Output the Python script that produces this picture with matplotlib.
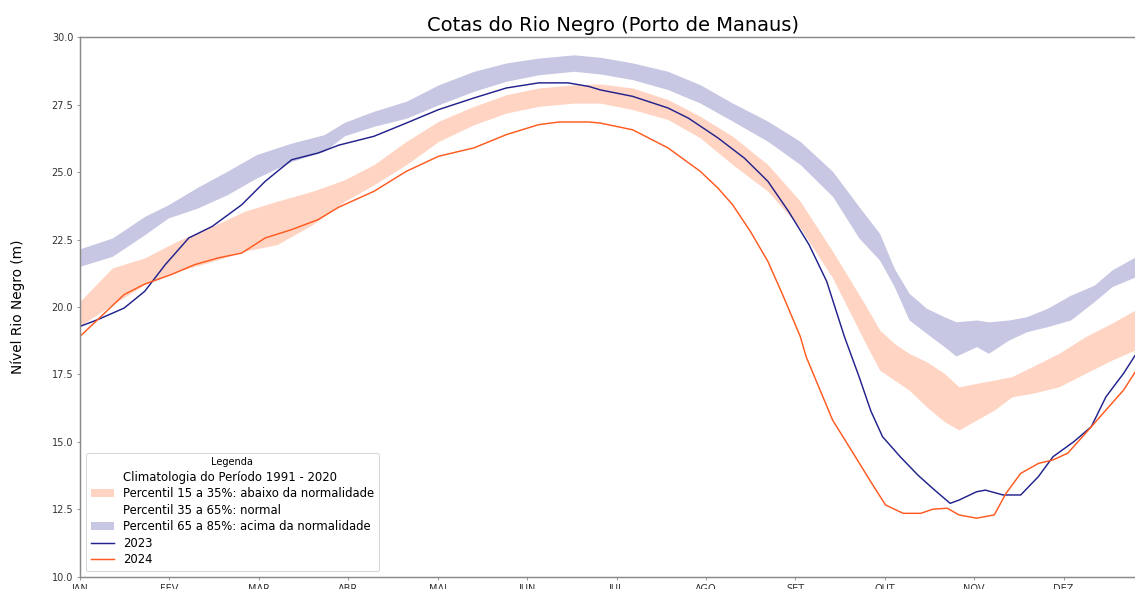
import numpy as np
import matplotlib
matplotlib.use('Agg')
from matplotlib import pyplot as plt
from matplotlib.patches import Patch

# dia do ano (0 = 1 de janeiro)
meses = ['JAN', 'FEV', 'MAR', 'ABR', 'MAI', 'JUN', 'JUL', 'AGO', 'SET', 'OUT', 'NOV', 'DEZ']

# percentil 65 a 85% (acima da normalidade)
dias_p85 = [0, 11, 22, 30, 40, 50, 60, 72, 83, 90, 100, 111, 122, 134, 145, 156, 168, 177, 188, 200,
            211, 222, 234, 245, 256, 265, 272, 277, 282, 288, 294, 298, 305, 309, 316, 322, 329, 337,
            345, 351, 359]
p85_sup = [22.16, 22.56, 23.36, 23.79, 24.44, 25.03, 25.65, 26.08, 26.39, 26.85, 27.26, 27.63, 28.24,
           28.74, 29.05, 29.23, 29.35, 29.26, 29.05, 28.74, 28.24, 27.56, 26.89, 26.14, 25.03, 23.72,
           22.73, 21.43, 20.51, 19.95, 19.64, 19.45, 19.52, 19.45, 19.52, 19.64, 19.95, 20.44, 20.81,
           21.37, 21.86]
p85_inf = [21.51, 21.88, 22.68, 23.30, 23.67, 24.16, 24.78, 25.40, 25.77, 26.35, 26.70, 27.00, 27.50,
           28.00, 28.37, 28.61, 28.74, 28.64, 28.43, 28.06, 27.56, 26.89, 26.14, 25.28, 24.10, 22.55,
           21.74, 20.75, 19.52, 19.02, 18.53, 18.18, 18.53, 18.28, 18.78, 19.08, 19.27, 19.52, 20.20,
           20.75, 21.12]

# percentil 15 a 35% (abaixo da normalidade)
dias_p15 = [0, 11, 22, 33, 45, 56, 67, 79, 90, 100, 111, 122, 134, 145, 156, 168, 177, 188, 200, 211,
            222, 234, 245, 256, 267, 272, 277, 282, 288, 294, 299, 305, 311, 317, 324, 333, 342, 351, 359]
p15_sup = [20.21, 21.45, 21.82, 22.44, 22.99, 23.55, 23.92, 24.29, 24.72, 25.28, 26.14, 26.89, 27.44,
           27.87, 28.12, 28.24, 28.27, 28.12, 27.69, 27.07, 26.33, 25.28, 23.92, 22.07, 20.10, 19.15,
           18.65, 18.28, 17.97, 17.54, 17.04, 17.17, 17.29, 17.42, 17.79, 18.28, 18.90, 19.40, 19.89]
p15_inf = [19.30, 20.09, 20.83, 21.32, 21.69, 22.07, 22.31, 23.05, 23.92, 24.53, 25.28, 26.14, 26.76,
           27.19, 27.44, 27.56, 27.56, 27.32, 26.95, 26.27, 25.28, 24.29, 22.93, 21.08, 18.70, 17.66,
           17.29, 16.92, 16.30, 15.75, 15.44, 15.81, 16.18, 16.67, 16.80, 17.04, 17.54, 18.03, 18.41]

# cotas 2023
dias_2023 = [0, 6, 15, 22, 29, 37, 45, 55, 63, 72, 81, 88, 100, 111, 122, 134, 145, 156, 166, 173, 177,
             188, 200, 207, 217, 226, 234, 241, 248, 254, 260, 265, 269, 273, 279, 285, 290, 296, 299,
             305, 308, 314, 320, 326, 331, 338, 344, 349, 355, 359]
cota_2023 = [19.28, 19.53, 19.96, 20.58, 21.57, 22.56, 22.99, 23.79, 24.66, 25.46, 25.71, 26.00, 26.33,
             26.82, 27.32, 27.75, 28.12, 28.31, 28.31, 28.18, 28.05, 27.81, 27.38, 27.00, 26.27, 25.52,
             24.66, 23.55, 22.31, 20.95, 18.91, 17.42, 16.15, 15.19, 14.45, 13.77, 13.28, 12.72, 12.84,
             13.15, 13.21, 13.03, 13.03, 13.71, 14.45, 15.00, 15.56, 16.67, 17.54, 18.22]

# cotas 2024
dias_2024 = [0, 6, 15, 22, 31, 39, 47, 55, 63, 72, 81, 88, 100, 111, 122, 134, 145, 156, 163, 173, 177,
             188, 200, 211, 217, 222, 228, 234, 239, 245, 247, 256, 263, 269, 274, 280, 286, 290, 295,
             299, 305, 311, 315, 320, 326, 331, 336, 342, 349, 355, 359]
cota_2024 = [18.91, 19.53, 20.46, 20.85, 21.20, 21.57, 21.82, 22.00, 22.56, 22.87, 23.24, 23.70, 24.29,
             25.03, 25.59, 25.90, 26.39, 26.76, 26.86, 26.86, 26.82, 26.57, 25.90, 25.03, 24.41, 23.79,
             22.81, 21.69, 20.46, 18.91, 18.16, 15.81, 14.58, 13.52, 12.66, 12.35, 12.35, 12.50, 12.54,
             12.29, 12.17, 12.29, 13.09, 13.83, 14.20, 14.33, 14.58, 15.31, 16.18, 16.92, 17.60]

fig = plt.figure(figsize=(1135 / 70, 589 / 70), dpi=70)
ax = fig.add_axes([80 / 1135, 12.3 / 589, 1073 / 1135, 539.4 / 589])  # direita passa da borda (recortado)

ax.fill_between(dias_p15, p15_inf, p15_sup, color='lightsalmon', alpha=0.45, linewidth=0,
                label='Percentil 15 a 35%: abaixo da normalidade')
ax.fill_between(dias_p85, p85_inf, p85_sup, color='navy', alpha=0.22, linewidth=0,
                label='Percentil 65 a 85%: acima da normalidade')
l23, = ax.plot(dias_2023, cota_2023, color='#22228c', lw=1.5, label='2023')
l24, = ax.plot(dias_2024, cota_2024, color='#ff5a1f', lw=1.5, label='2024')

ax.set_xlim(0, 365)
ax.set_ylim(10, 30)
ax.set_xticks(np.linspace(0, 365, 13)[:-1])
ax.set_xticklabels(meses)
ax.set_yticks(np.arange(10, 30.1, 2.5))
ax.tick_params(colors='#7f7f7f', labelcolor='#333333', labelsize=10)
for s in ax.spines.values():
    s.set_color('#8a8a8a')
    s.set_linewidth(1.5)

ax.set_ylabel('Nível Rio Negro (m)', fontsize=14, labelpad=27)
ax.set_title('Cotas do Rio Negro (Porto de Manaus)', fontsize=20, x=0.497)

h, lab = ax.get_legend_handles_labels()
handles = [Patch(facecolor='none', edgecolor='none'), h[0], Patch(facecolor='none', edgecolor='none'),
           h[1], l23, l24]
labels = ['Climatologia do Período 1991 - 2020', 'Percentil 15 a 35%: abaixo da normalidade',
          'Percentil 35 a 65%: normal', 'Percentil 65 a 85%: acima da normalidade', '2023', '2024']
ax.legend(handles, labels, loc='lower left', title='Legenda', fontsize=12, title_fontsize=10,
          labelspacing=0.3)

plt.savefig('out.png', dpi=70)
